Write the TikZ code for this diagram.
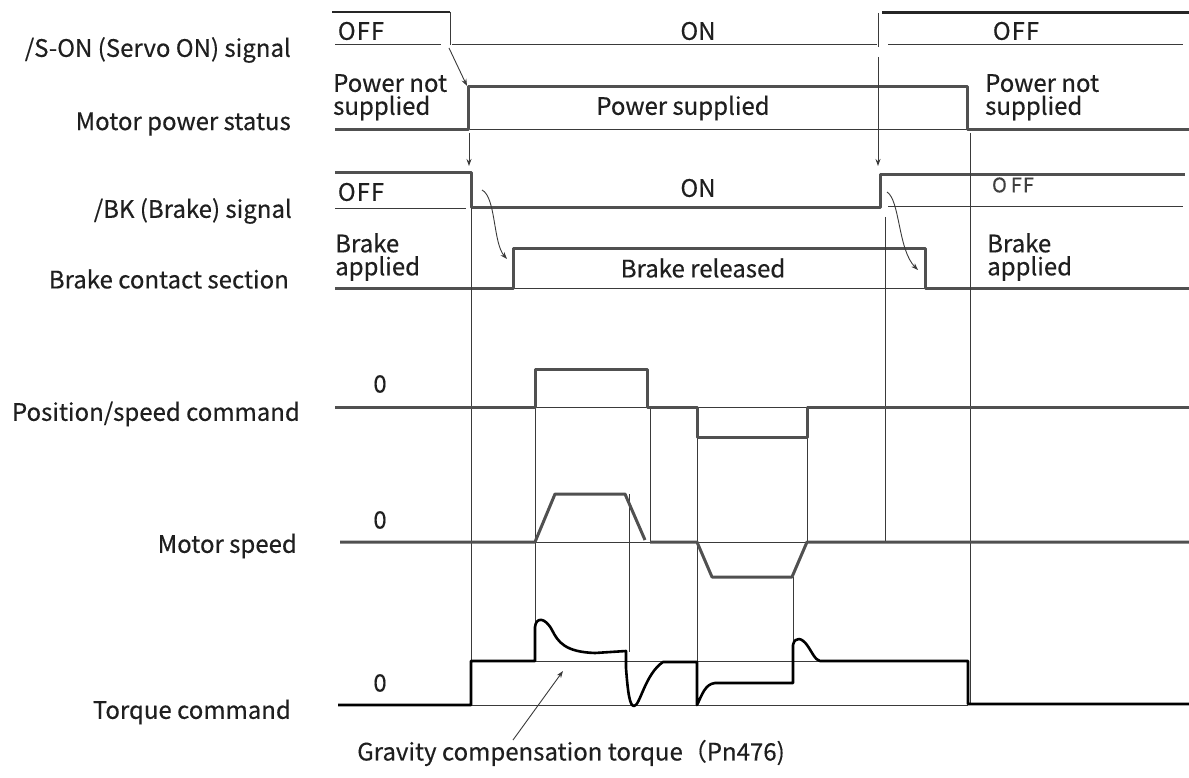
\documentclass[tikz,border=0pt]{standalone}
\usepackage{fontspec}
\newfontfamily\cjk[FakeBold=0.35]{Noto Sans CJK SC}
\usetikzlibrary{arrows.meta}
\definecolor{wavegray}{HTML}{505050}
\definecolor{thingray}{HTML}{3A3A3A}
\begin{document}
\begin{tikzpicture}[x=1pt,y=-1pt,
  wave/.style={line width=3pt, draw=wavegray, line join=round},
  tq/.style={line width=2.6pt, draw=black, line join=round},
  thinln/.style={line width=1pt, draw=thingray},
  lbl/.style={font=\cjk\fontsize{24}{24}\selectfont, text=black!88, anchor=east, inner sep=0pt},
  wtxt/.style={font=\cjk\fontsize{24}{24}\selectfont, text=black!88, inner sep=0pt},
  wtxt2/.style={font=\cjk\fontsize{24}{23}\selectfont, text=black!88, align=left, anchor=north west, inner sep=0pt},
  arr/.style={line width=0.9pt, draw=thingray, -{Stealth[length=7pt,width=5pt]}}
]
\useasboundingbox (0,0) rectangle (1189,778);

% ---------- left labels ----------
\node[lbl] (lsOn) at (291,50) {/S-ON (Servo ON) signal};
\node[lbl] (lPow) at (291,124) {Motor power status};
\node[lbl] (lBk) at (292,211) {/BK (Brake) signal};
\node[lbl] (lBrk) at (289,279) {Brake contact section};
\node[lbl] (lPos) at (300,414) {Position/speed command};
\node[lbl] (lSpd) at (297,546) {Motor speed};
\node[lbl] (lTq) at (291,712) {Torque command};

% ---------- /S-ON signal ----------
\draw[line width=2pt, draw=black!85] (332,12) -- (450,12);
\draw[thinln] (450,12) -- (450,45);
\draw[thinln] (335,45) -- (441,45);
\draw[thinln] (452,45) -- (877,45);
\draw[thinln] (878,13) -- (878,47);
\draw[line width=3pt, draw=black!85] (882,13) -- (1189,13);
\draw[thinln] (888,45) -- (1183,45);
\node[wtxt] (sOff1) at (361,31) {O\hspace{1pt}F\hspace{1pt}F};
\node[wtxt] (sOn) at (698,31) {ON};
\node[wtxt] (sOff2) at (1016,31) {O\hspace{1pt}F\hspace{1pt}F};

% ---------- Motor power status ----------
\draw[thinln] (470,130) -- (967,130);
\draw[wave] (335,130) -- (468,130) -- (468,87) -- (967,87) -- (967,130) -- (1189,130);
\node[wtxt2] (pNo1) at (333,74) {Power not\\supplied};
\node[wtxt] (pYes) at (683,108) {Power supplied};
\node[wtxt2] (pNo2) at (985,74) {Power not\\supplied};

% ---------- /BK signal ----------
\draw[thinln] (335,209) -- (466,209);
\draw[thinln] (888,207) -- (1183,207);
\draw[wave] (335,173) -- (471,173) -- (471,208) -- (880,208) -- (880,175) -- (1185,175);
\node[wtxt] (bOff1) at (361,192) {O\hspace{1pt}F\hspace{1pt}F};
\node[wtxt] (bOn) at (698,188) {ON};
\node[font=\cjk\fontsize{20}{20}\selectfont, text=black!75, inner sep=0pt] (bOff2) at (1013,185) {O\hspace{4pt}F\hspace{1pt}F};

% ---------- Brake contact section ----------
\draw[thinln] (513,288) -- (925,288);
\draw[wave] (335,288) -- (513,288) -- (513,249) -- (925,249) -- (925,288) -- (1189,288);
\node[wtxt2] (cAp1) at (335,233) {Brake\\applied};
\node[wtxt] (cRel) at (703,268) {Brake released};
\node[wtxt2] (cAp2) at (987,233) {Brake\\applied};

% ---------- vertical guide lines ----------
\draw[thinln] (471,208) -- (471,705);
\draw[thinln] (885,217) -- (885,542);
\draw[thinln] (970,133) -- (970,705);
\draw[thinln] (535,407) -- (535,661);
\draw[thinln] (629,494) -- (629,652);
\draw[thinln] (650,407) -- (650,542);
\draw[thinln] (697,437) -- (697,705);
\draw[thinln] (807,437) -- (807,542);
\draw[thinln] (793,577) -- (793,683);

% ---------- arrows ----------
\coordinate (a1s) at (449,48);  \coordinate (a1e) at (467,86);
\coordinate (a2s) at (469,133); \coordinate (a2e) at (469,166);
\coordinate (a3s) at (878,57);  \coordinate (a3e) at (878,166);
\coordinate (a4s) at (482,190); \coordinate (a4e) at (507,259);
\coordinate (a5s) at (887,192); \coordinate (a5e) at (918,270);
\draw[arr] (a1s) -- (a1e);
\draw[arr] (a2s) -- (a2e);
\draw[arr] (a3s) -- (a3e);
\draw[arr] (a4s) .. controls (496,197) and (493,243) .. (a4e);
\draw[arr] (a5s) .. controls (900,200) and (898,250) .. (a5e);

% ---------- Position/speed command ----------
\draw[thinln] (535,407) -- (807,407);
\draw[wave] (335,407) -- (535,407) -- (535,369) -- (647,369) -- (647,407) -- (697,407) -- (697,437) -- (807,437) -- (807,407) -- (1189,407);
\node[wtxt] (z1) at (380,384) {0};

% ---------- Motor speed ----------
\draw[thinln] (535,542) -- (807,542);
\draw[wave] (340,542) -- (535,542) -- (555,494) -- (625,494) -- (645,540);
\draw[wave] (650,542) -- (697,542) -- (712,577) -- (792,577) -- (807,542) -- (1189,542);
\node[wtxt] (z2) at (380,520) {0};

% ---------- Torque command ----------
\draw[thinln] (471,661) -- (968,661);
\draw[thinln] (471,705) -- (968,705);
\draw[tq] (338,705) -- (471,705) -- (471,661) -- (535,661) -- (535,627)
  .. controls (536,617) and (545,617) .. (552,630)
  .. controls (558,642) and (565,652) .. (595,653) -- (626,651)
  -- (626,668) .. controls (628,695) and (630,706) .. (634,706)
  .. controls (640,706) and (645,674) .. (663,662) -- (697,662)
  -- (697,705) .. controls (702,695) and (705,684) .. (715,683) -- (793,683)
  -- (793,645) .. controls (795,636) and (802,638) .. (807,645)
  .. controls (812,652) and (815,660) .. (820,661) -- (968,661)
  -- (968,704) -- (1189,704);
\node[wtxt] (z3) at (380,683) {0};

% ---------- Gravity compensation ----------
\node[font=\cjk\fontsize{24}{24}\selectfont, text=black!88, anchor=west, inner sep=0pt] (grav) at (357,753) {Gravity compensation torque（Pn476)};
\coordinate (g1) at (513,740);
\coordinate (g2) at (563,671);
\draw[arr] (g1) -- (g2);
\end{tikzpicture}
\end{document}
